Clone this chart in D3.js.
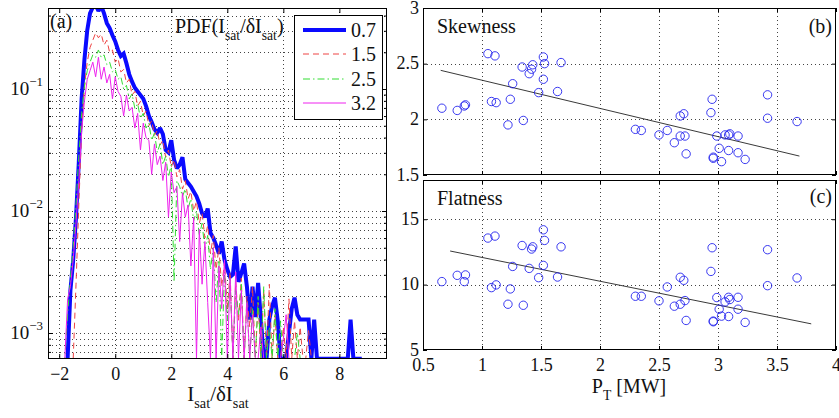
<!DOCTYPE html>
<html>
<head>
<meta charset="utf-8">
<script src="https://cdn.jsdelivr.net/npm/d3@7"></script>
<style>
  html, body { margin: 0; padding: 0; background: #fff; }
  svg { display: block; }
  text { font-family: "Liberation Serif", "Times New Roman", serif; fill: #111; }
</style>
</head>
<body>
<svg id="fig" width="839" height="418"></svg>
<script>
// ---------- panel (a): PDF of Isat/dIsat for four heating powers ----------
const pdfBins = [
  -2.4,-2.3,-2.2,-2.1,-2.0,-1.9,-1.8,-1.7,-1.6,-1.5,
  -1.4,-1.3,-1.2,-1.1,-1.0,-0.9,-0.8,-0.7,-0.6,-0.5,
  -0.4,-0.3,-0.2,-0.1,0.0,0.1,0.2,0.3,0.4,0.5,
  0.6,0.7,0.8,0.9,1.0,1.1,1.2,1.3,1.4,1.5,
  1.6,1.7,1.8,1.9,2.0,2.1,2.2,2.3,2.4,2.5,
  2.6,2.7,2.8,2.9,3.0,3.1,3.2,3.3,3.4,3.5,
  3.6,3.7,3.8,3.9,4.0,4.1,4.2,4.3,4.4,4.5,
  4.6,4.7,4.8,4.9,5.0,5.1,5.2,5.3,5.4,5.5,
  5.6,5.7,5.8,5.9,6.0,6.1,6.2,6.3,6.4,6.5,
  6.6,6.7,6.8,6.9,7.0,7.1,7.2,7.3,7.4,7.5,
  7.6,7.7,7.8,7.9,8.0,8.1,8.2,8.3,8.4,8.5,
  8.6,8.7,8.8,8.9,9.0,9.1,9.2,9.3,9.4,9.5,
  9.6
];

// log10 of the PDF in each bin (null = no entry)
const logPdf07 = [
  null,null,null,null,null,null,null,-3.21,-2.65,-2.40,
  -2.05,-1.60,-1.08,-0.76,-0.52,-0.38,-0.33,-0.31,-0.36,-0.32,
  -0.38,-0.46,-0.50,-0.56,-0.61,-0.68,-0.73,-0.71,-0.79,-0.88,
  -0.94,-0.99,-1.02,-1.05,-1.08,-1.14,-1.22,-1.27,-1.33,-1.36,
  -1.32,-1.37,-1.50,-1.52,-1.42,-1.58,-1.65,-1.62,-1.56,-1.74,
  -1.77,-1.80,-1.84,-1.88,-1.94,-2.02,-2.05,-1.98,-2.18,-2.22,
  -2.28,-2.35,-2.25,-2.40,-2.48,-2.54,-2.52,-2.29,-2.58,-2.51,
  -2.43,-2.62,-2.89,-2.62,-2.87,-2.59,-2.89,-3.21,-3.21,-2.89,
  -2.78,-2.71,-2.90,-3.21,-3.21,-3.21,-3.00,-2.80,-2.71,-2.85,
  -2.89,-2.89,-2.89,-2.89,-3.21,-2.89,-3.21,-3.21,-3.21,-3.21,
  -3.21,-3.21,-3.21,-3.21,-3.21,-3.21,-3.21,-3.21,-2.89,-3.21,
  -3.21,-3.21,-3.21,null,null,null,null,null,null,null,
  null
];
const logPdf15 = [
  null,null,null,null,null,null,null,null,null,-3.21,
  -2.60,-1.95,-1.35,-0.98,-0.78,-0.66,-0.60,-0.54,-0.58,-0.55,
  -0.64,-0.60,-0.70,-0.68,-0.78,-0.75,-0.86,-0.84,-0.95,-0.92,
  -1.05,-1.02,-1.14,-1.10,-1.22,-1.18,-1.30,-1.26,-1.38,-1.34,
  -1.46,-1.42,-1.56,-1.50,-1.64,-1.58,-1.72,-1.66,-1.82,-1.75,
  -1.90,-1.84,-2.00,-1.92,-2.10,-2.02,-2.22,-2.12,-2.35,-2.20,
  -2.48,-2.30,-2.62,-2.42,-2.80,-2.50,-3.21,-2.58,-2.90,-2.55,
  -3.21,-2.70,-2.95,-2.62,-3.21,-2.75,-3.21,-2.65,-3.21,-2.60,
  -3.21,-2.85,-3.21,-3.21,-2.95,-3.21,-2.72,-3.21,-2.90,-3.21,
  -2.95,-3.21,-3.21,-2.98,-3.21,-3.21,-3.21,-3.21,-3.21,-3.21,
  -3.21,-3.21,-3.21,-3.21,-3.21,-3.21,-3.21,-3.21,-3.21,-3.21,
  -3.21,-3.21,-3.21,-3.21,-3.21,-3.21,-3.21,-3.21,-3.21,-3.21,
  -3.21
];
const logPdf25 = [
  null,null,null,null,-3.21,-3.21,-3.21,-2.85,-2.55,-2.30,
  -1.95,-1.55,-1.20,-0.98,-0.85,-0.78,-0.72,-0.74,-0.68,-0.74,
  -0.72,-0.80,-0.78,-0.86,-0.84,-0.92,-0.90,-1.00,-0.97,-1.08,
  -1.04,-1.16,-1.12,-1.24,-1.20,-1.32,-1.28,-1.42,-1.36,-1.52,
  -1.45,-1.62,-1.55,-1.72,-1.62,-2.58,-1.75,-1.80,-1.88,-1.82,
  -1.98,-1.90,-2.08,-2.00,-2.20,-2.10,-2.32,-2.20,-2.48,-2.30,
  -2.75,-2.40,-3.21,-2.50,-2.90,-2.55,-3.21,-2.65,-2.85,-2.60,
  -3.21,-2.75,-3.21,-2.80,-3.21,-2.70,-3.21,-2.62,-3.21,-2.95,
  -3.21,-2.80,-3.21,-2.90,-3.21,-3.21,-3.21,-3.21,-3.21,-3.00,
  -3.21,-3.21,-3.21,-3.21,-3.21,-3.21,-3.21,-3.21,-3.21,-3.21,
  null,null,null,null,null,null,null,null,null,null,
  null,null,null,null,null,null,null,null,null,null,
  null
];
const logPdf32 = [
  -3.21,-3.21,-3.21,-3.21,-3.21,-3.21,-3.21,-2.72,-2.62,-2.40,
  -2.10,-1.75,-1.35,-1.10,-0.92,-0.85,-0.78,-0.90,-0.74,-0.92,
  -0.82,-0.95,-0.88,-1.08,-0.90,-1.02,-1.06,-1.22,-1.05,-1.18,
  -1.15,-1.32,-1.20,-1.50,-1.28,-1.40,-1.42,-1.70,-1.45,-1.62,
  -1.55,-1.75,-1.60,-2.05,-1.68,-1.85,-1.80,-2.25,-1.85,-2.05,
  -1.95,-2.45,-2.05,-3.21,-2.15,-2.60,-2.25,-2.75,-3.21,-2.30,
  -3.21,-2.45,-2.80,-2.40,-3.21,-2.55,-3.21,-2.50,-3.21,-2.65,
  -3.21,-2.75,-3.21,-2.85,-3.21,-3.21,-2.95,-3.21,-3.21,-3.21,
  -3.21,-3.21,-3.21,-3.21,-3.05,-2.85,-3.21,-3.21,-3.21,-3.21,
  -3.21,-3.21,-3.21,-3.21,-3.21,null,null,null,null,null,
  null,null,null,null,null,null,null,null,null,null,
  null,null,null,null,null,null,null,null,null,null,
  null
];
const powerLabels = ["0.7", "1.5", "2.5", "3.2"];
const pdfXTicks = [-2, 0, 2, 4, 6, 8];
const pdfDecades = [-3, -2, -1];

// ---------- panels (b), (c): skewness and flatness vs heating power ----------
const powerMW = [
  0.66, 0.79, 0.85, 0.86, 1.05, 1.11, 1.08, 1.12, 1.24, 1.22, 1.26, 1.35, 1.34,
  1.40, 1.42, 1.43, 1.52, 1.53, 1.52, 1.48, 1.64, 1.67,
  2.30, 2.35, 2.50, 2.57, 2.63, 2.68, 2.72, 2.68, 2.71, 2.73, 2.94, 2.95, 2.96,
  2.96, 2.99, 3.01, 3.03, 3.06, 3.09, 3.10, 3.09, 3.17, 3.17, 3.23, 3.42, 3.42, 3.67
];
const skewness = [
  2.10, 2.08, 2.12, 2.13, 2.59, 2.57, 2.16, 2.15, 2.18, 1.95, 2.32, 1.99, 2.47,
  2.41, 2.45, 2.49, 2.56, 2.50, 2.36, 2.24, 2.25, 2.51,
  1.91, 1.90, 1.86, 1.90, 1.79, 1.85, 1.85, 2.03, 2.05, 1.69, 2.06, 2.18, 1.66,
  1.65, 1.85, 1.74, 1.62, 1.86, 1.86, 1.87, 1.72, 1.85, 1.70, 1.64, 2.22, 2.01, 1.98
];
const flatness = [
  10.23, 10.71, 10.23, 10.74, 13.56, 13.71, 9.77, 9.98, 9.67, 8.50, 11.39, 8.42, 12.99,
  11.24, 12.72, 12.89, 14.19, 13.38, 11.47, 10.53, 10.58, 12.89,
  9.11, 9.11, 8.76, 9.82, 8.35, 8.50, 8.78, 10.56, 10.33, 7.26, 11.01, 12.82, 7.21,
  7.16, 9.01, 8.12, 7.59, 8.68, 9.03, 8.86, 7.56, 9.03, 8.12, 7.11, 12.67, 9.92, 10.51
];
// linear trend lines (start and end points)
const skewFit = [[0.65, 2.44], [3.69, 1.67]];
const flatFit = [[0.73, 12.57], [3.79, 7.00]];
const powerTicks = [0.5, 1, 1.5, 2, 2.5, 3, 3.5, 4];
const skewTicks = [1.5, 2, 2.5, 3];
const flatTicks = [5, 10, 15];

// ---------- drawing ----------
const svg = d3.select("#fig");
const FONT = 18;
const GRID = { stroke: "#444", dash: "1,3" };

function richText(g, x, y, parts, size, anchor) {
  const t = g.append("text").attr("x", x).attr("y", y)
    .attr("font-size", size).attr("text-anchor", anchor || "start");
  let shift = 0;
  parts.forEach(([s, kind]) => {
    const sp = t.append("tspan").text(s);
    const target = kind === "sub" ? size * 0.35 : kind === "sup" ? -size * 0.45 : 0;
    if (target !== shift) sp.attr("dy", target - shift);
    if (kind) sp.attr("font-size", size * 0.68);
    shift = target;
  });
  return t;
}

function styleAxis(g) {
  g.select(".domain").remove();
  g.selectAll(".tick line").attr("stroke", "#000");
  g.selectAll("text").attr("font-family", '"Liberation Serif", serif')
    .attr("font-size", FONT).attr("fill", "#111");
  g.attr("font-family", null).attr("font-size", null);
}

// ===== panel (a) =====
const A = { left: 48, right: 387, top: 8, bottom: 359 };
const xa = d3.scaleLinear().domain([-2.4, 9.7]).range([A.left, A.right]);
const ya = d3.scaleLog().domain([Math.pow(10, -3.213), Math.pow(10, -0.336)]).range([A.bottom, A.top]);

svg.append("clipPath").attr("id", "clipA").append("rect")
  .attr("x", A.left).attr("y", A.top).attr("width", A.right - A.left).attr("height", A.bottom - A.top);

const ga = svg.append("g");
// grid
const gridA = ga.append("g").attr("stroke", GRID.stroke).attr("stroke-dasharray", GRID.dash).attr("stroke-width", 1);
gridA.selectAll("line.v").data(pdfXTicks).join("line")
  .attr("x1", d => Math.round(xa(d)) + 0.5).attr("x2", d => Math.round(xa(d)) + 0.5)
  .attr("y1", A.top).attr("y2", A.bottom);
gridA.selectAll("line.h").data(ya.ticks()).join("line")
  .attr("y1", d => Math.round(ya(d)) + 0.5).attr("y2", d => Math.round(ya(d)) + 0.5)
  .attr("x1", A.left).attr("x2", A.right);

// curves
const series = [
  { vals: logPdf07, color: "#0a0aff", width: 4,   dash: null },
  { vals: logPdf15, color: "#ee4444", width: 1,   dash: "6,4" },
  { vals: logPdf25, color: "#33dd33", width: 1,   dash: "7,3,1.5,3" },
  { vals: logPdf32, color: "#ee22ee", width: 1,   dash: null }
];
const lineA = d3.line()
  .defined(d => d[1] !== null)
  .x(d => xa(d[0]))
  .y(d => ya(Math.pow(10, d[1])));
const curves = ga.append("g").attr("clip-path", "url(#clipA)");
series.forEach(s => {
  curves.append("path")
    .datum(pdfBins.map((b, i) => [b, s.vals[i]]))
    .attr("d", lineA)
    .attr("fill", "none")
    .attr("stroke", s.color)
    .attr("stroke-width", s.width)
    .attr("stroke-linejoin", "miter")
    .attr("stroke-miterlimit", 2)
    .attr("stroke-dasharray", s.dash);
});

// axes (ticks inward)
ga.append("g").attr("transform", `translate(0,${A.bottom})`)
  .call(d3.axisBottom(xa).tickValues(pdfXTicks).tickSizeInner(-5).tickSizeOuter(0).tickPadding(8)
    .tickFormat(d => d < 0 ? "\u2212" + Math.abs(d) : String(d)))
  .call(styleAxis);
ga.append("g").attr("transform", `translate(0,${A.top})`)
  .call(d3.axisTop(xa).tickValues(pdfXTicks).tickSizeInner(-5).tickSizeOuter(0).tickFormat(""))
  .call(styleAxis);
const majorA = pdfDecades.map(e => Math.pow(10, e));
const minorA = ya.ticks().filter(v => !majorA.some(m => Math.abs(m - v) / m < 1e-6));
ga.append("g").attr("transform", `translate(${A.left},0)`)
  .call(d3.axisLeft(ya).tickValues(majorA).tickSizeInner(-5).tickSizeOuter(0).tickFormat(""))
  .call(styleAxis);
ga.append("g").attr("transform", `translate(${A.left},0)`)
  .call(d3.axisLeft(ya).tickValues(minorA).tickSizeInner(-3).tickSizeOuter(0).tickFormat(""))
  .call(styleAxis);
ga.append("g").attr("transform", `translate(${A.right},0)`)
  .call(d3.axisRight(ya).tickValues(majorA).tickSizeInner(-5).tickSizeOuter(0).tickFormat(""))
  .call(styleAxis);
ga.append("g").attr("transform", `translate(${A.right},0)`)
  .call(d3.axisRight(ya).tickValues(minorA).tickSizeInner(-3).tickSizeOuter(0).tickFormat(""))
  .call(styleAxis);
// decade labels 10^n
pdfDecades.forEach(e => {
  richText(ga, 43, ya(Math.pow(10, e)) + 6, [["10"], ["\u2212" + Math.abs(e), "sup"]], 19, "end");
});
ga.append("rect").attr("x", A.left + 0.5).attr("y", A.top + 0.5)
  .attr("width", A.right - A.left - 1).attr("height", A.bottom - A.top - 1)
  .attr("fill", "none").attr("stroke", "#000").attr("stroke-width", 1);

// labels
ga.append("text").attr("x", 50).attr("y", 28).attr("font-size", 20).text("(a)");
richText(ga, 175, 33, [["PDF(I"], ["sat", "sub"], ["/\u03b4I"], ["sat", "sub"], [")"]], 20);
richText(svg, 218, 401, [["I"], ["sat", "sub"], ["/\u03b4I"], ["sat", "sub"]], 21, "middle");

// legend
const leg = ga.append("g");
leg.append("rect").attr("x", 294.5).attr("y", 15.5).attr("width", 88).attr("height", 104)
  .attr("fill", "#fff").attr("stroke", "#000").attr("stroke-width", 1);
const legY = [30, 54, 79, 103];
series.forEach((s, i) => {
  leg.append("line").attr("x1", 303).attr("x2", 346).attr("y1", legY[i]).attr("y2", legY[i])
    .attr("stroke", s.color).attr("stroke-width", s.width).attr("stroke-dasharray", s.dash);
  leg.append("text").attr("x", 351).attr("y", legY[i] + 7).attr("font-size", 20).text(powerLabels[i]);
});

// ===== panels (b) and (c) =====
const R = { left: 423, right: 836 };
const xp = d3.scaleLinear().domain([0.5, 4]).range([R.left, R.right]);

function scatterPanel(top, bottom, yDomain, yTicks, values, fit, name, tag, tagY, showX) {
  const yv = d3.scaleLinear().domain(yDomain).range([bottom, top]);
  const g = svg.append("g");
  const grid = g.append("g").attr("stroke", GRID.stroke).attr("stroke-dasharray", GRID.dash).attr("stroke-width", 1);
  grid.selectAll("line.v").data(powerTicks.slice(1, -1)).join("line")
    .attr("x1", d => Math.round(xp(d)) + 0.5).attr("x2", d => Math.round(xp(d)) + 0.5)
    .attr("y1", top).attr("y2", bottom);
  grid.selectAll("line.h").data(yTicks.filter(t => yv(t) > top + 1 && yv(t) < bottom - 1)).join("line")
    .attr("y1", d => Math.round(yv(d)) + 0.5).attr("y2", d => Math.round(yv(d)) + 0.5)
    .attr("x1", R.left).attr("x2", R.right);

  g.append("g").attr("transform", `translate(0,${bottom})`)
    .call(d3.axisBottom(xp).tickValues(powerTicks).tickSizeInner(-4).tickSizeOuter(0).tickPadding(8)
      .tickFormat(showX ? (d => String(d)) : ""))
    .call(styleAxis);
  g.append("g").attr("transform", `translate(0,${top})`)
    .call(d3.axisTop(xp).tickValues(powerTicks).tickSizeInner(-4).tickSizeOuter(0).tickFormat(""))
    .call(styleAxis);
  const yAxis = g.append("g").attr("transform", `translate(${R.left},0)`)
    .call(d3.axisLeft(yv).tickValues(yTicks).tickSizeInner(-4).tickSizeOuter(0).tickPadding(4)
      .tickFormat(d => String(d)))
    .call(styleAxis);
  yAxis.selectAll("text").attr("dy", "0.28em");
  g.append("g").attr("transform", `translate(${R.right},0)`)
    .call(d3.axisRight(yv).tickValues(yTicks).tickSizeInner(-4).tickSizeOuter(0).tickFormat(""))
    .call(styleAxis);

  g.append("line")
    .attr("x1", xp(fit[0][0])).attr("y1", yv(fit[0][1]))
    .attr("x2", xp(fit[1][0])).attr("y2", yv(fit[1][1]))
    .attr("stroke", "#222").attr("stroke-width", 0.9);

  g.selectAll("circle").data(powerMW.map((p, i) => [p, values[i]])).join("circle")
    .attr("cx", d => xp(d[0])).attr("cy", d => yv(d[1])).attr("r", 4.2)
    .attr("fill", "none").attr("stroke", "#2424ee").attr("stroke-width", 0.9);

  g.append("rect").attr("x", R.left + 0.5).attr("y", top + 0.5)
    .attr("width", R.right - R.left - 1).attr("height", bottom - top - 1)
    .attr("fill", "none").attr("stroke", "#000").attr("stroke-width", 1);

  g.append("text").attr("x", 437).attr("y", top + 25).attr("font-size", 20).text(name);
  g.append("text").attr("x", 832).attr("y", tagY).attr("font-size", 20)
    .attr("text-anchor", "end").text(tag);
}

scatterPanel(8, 175, [1.5, 3], skewTicks, skewness, skewFit, "Skewness", "(b)", 33, false);
scatterPanel(180, 350, [5, 18], flatTicks, flatness, flatFit, "Flatness", "(c)", 203, true);

richText(svg, 629, 393, [["P"], ["T", "sub"], [" [MW]"]], 20, "middle");
</script>
</body>
</html>
